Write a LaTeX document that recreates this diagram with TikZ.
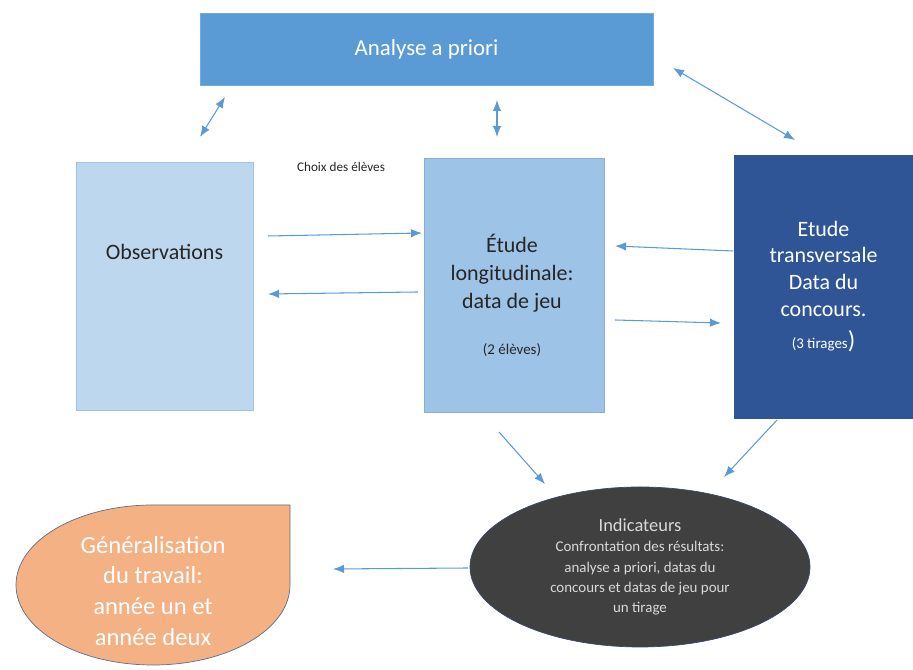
\documentclass[tikz,border=0pt]{standalone}
\usepackage{fontspec}
\setmainfont{Carlito}
\usetikzlibrary{shapes.geometric,arrows.meta}
\definecolor{bleuA}{HTML}{5B9BD5}
\definecolor{bleuB}{HTML}{9DC3E6}
\definecolor{bleuC}{HTML}{BDD7EE}
\definecolor{bleuD}{HTML}{2F5597}
\definecolor{grisF}{HTML}{404040}
\definecolor{grisC}{HTML}{D9D9D9}
\definecolor{saumon}{HTML}{F4B183}
\definecolor{texte}{HTML}{262626}
\definecolor{trait}{HTML}{5B9BD5}
\begin{document}
\begin{tikzpicture}[
        boite/.style={rectangle, inner sep=0pt},
        fleche/.style={draw=trait, line width=0.6pt, -{Latex[length=2.2mm,width=1.7mm]}},
        fleche2/.style={draw=trait, line width=0.6pt, {Latex[length=2.2mm,width=1.7mm]}-{Latex[length=2.2mm,width=1.7mm]}}]
                \useasboundingbox (0,0) rectangle (18.26,13.4);

                \node[boite, fill=bleuA, draw=bleuA!85!white, minimum width=9.06cm, minimum height=1.44cm,
                      text=white, font=\fontsize{13}{15}\selectfont] (analyse) at (8.53,12.42) {Analyse a priori};

                \node[boite, fill=bleuC, draw=bleuB, minimum width=3.54cm, minimum height=4.96cm] (obs) at (3.29,7.68) {};
                \node[text=texte, font=\fontsize{12.5}{15}\selectfont] (obs-t) at (3.29,8.36) {Observations};

                \node[boite, fill=bleuB, draw=bleuB!90!black, minimum width=3.6cm, minimum height=5.08cm] (longi) at (10.28,7.70) {};
                \node[align=center, text=texte, font=\fontsize{12.5}{16}\selectfont] (longi-t) at (10.24,7.94) {Étude\\longitudinale:\\data de jeu};
                \node[text=texte, font=\fontsize{8.5}{10}\selectfont] (longi-n) at (10.24,6.40) {(2 élèves)};

                \node[boite, fill=bleuD, draw=bleuD, minimum width=3.58cm, minimum height=5.26cm, align=center,
                      text=white, font=\fontsize{12.5}{15.3}\selectfont] (trans) at (16.47,7.67)
                      {Etude\\transversale\\Data du\\concours.\\[3pt]{\fontsize{8.5}{10}\selectfont (3 tirages}{\fontsize{14}{15}\selectfont)}};

                \node[text=texte, font=\fontsize{7.5}{9}\selectfont] (choix) at (6.82,10.06) {Choix des élèves};

                \node[ellipse, fill=grisF, draw=bleuD!50!grisF, minimum width=6.8cm, minimum height=3.2cm, inner sep=0pt,
                      align=center, text=grisC, font=\fontsize{8.5}{11.5}\selectfont] (indic) at (12.8,2.06)
                      {{\fontsize{10.5}{13}\selectfont Indicateurs}\\Confrontation des résultats:\\analyse a priori, datas du\\concours et datas de jeu pour\\un tirage};

                \filldraw[fill=saumon, draw=bleuD!40!gray] (5.80,3.30) -- (5.80,1.70)
                      arc[x radius=2.74, y radius=1.6, start angle=0, end angle=-270] -- cycle;
                \node[align=center, text=white, font=\fontsize{14}{17.6}\selectfont] (gen) at (3.06,1.58)
                      {Généralisation\\du travail:\\année un et\\année deux};

                \coordinate (c1a) at (4.00,10.66);
                \coordinate (c1b) at (4.50,11.46);
                \coordinate (c2a) at (9.94,10.66);
                \coordinate (c2b) at (9.94,11.40);
                \coordinate (c3a) at (13.46,12.04);
                \coordinate (c3b) at (15.90,10.60);
                \coordinate (c4a) at (5.36,8.68);
                \coordinate (c4b) at (8.44,8.74);
                \coordinate (c5a) at (8.36,7.56);
                \coordinate (c5b) at (5.36,7.52);
                \coordinate (c6a) at (14.66,8.38);
                \coordinate (c6b) at (12.30,8.48);
                \coordinate (c7a) at (12.30,7.00);
                \coordinate (c7b) at (14.42,6.94);
                \coordinate (c8a) at (9.98,4.76);
                \coordinate (c8b) at (10.90,3.72);
                \coordinate (c9a) at (15.54,5.00);
                \coordinate (c9b) at (14.48,3.86);
                \coordinate (c10a) at (9.36,2.04);
                \coordinate (c10b) at (6.66,2.02);

                \draw[fleche2] (c1a) -- (c1b);
                \draw[fleche2] (c2a) -- (c2b);
                \draw[fleche2] (c3a) -- (c3b);
                \draw[fleche] (c4a) -- (c4b);
                \draw[fleche] (c5a) -- (c5b);
                \draw[fleche] (c6a) -- (c6b);
                \draw[fleche] (c7a) -- (c7b);
                \draw[fleche] (c8a) -- (c8b);
                \draw[fleche] (c9a) -- (c9b);
                \draw[fleche] (c10a) -- (c10b);
            \end{tikzpicture}
\end{document}
